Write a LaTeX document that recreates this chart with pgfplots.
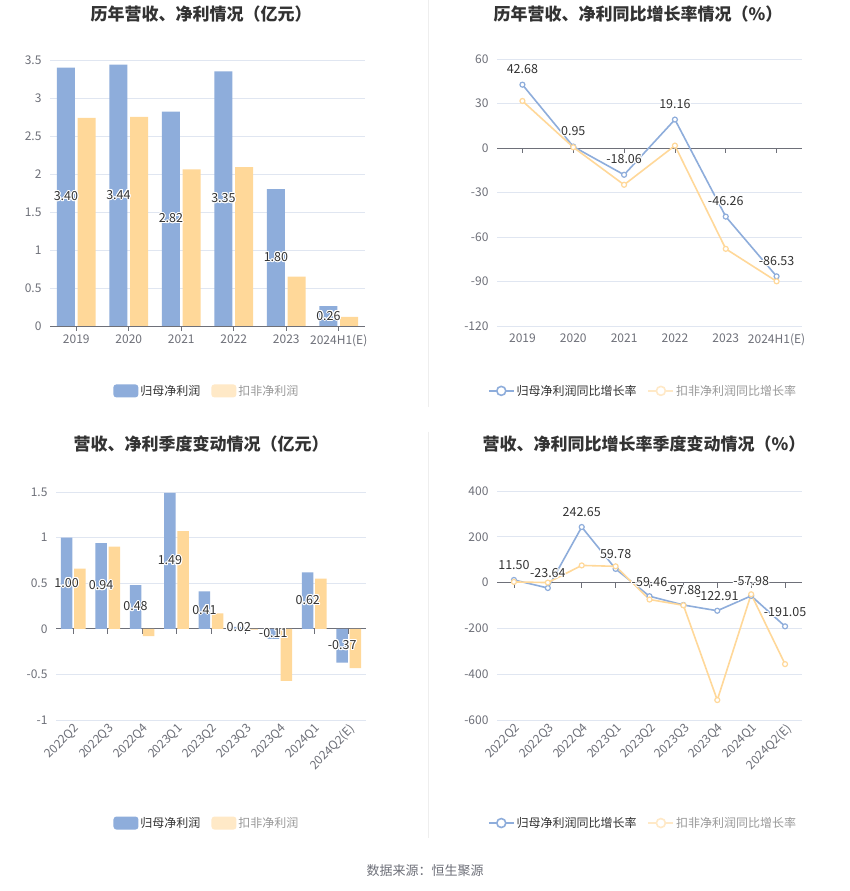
\documentclass[border=0pt]{standalone}
\usepackage{pgfplots}
\pgfplotsset{compat=1.18}
\usepackage{pgfplotstable}
\usepackage{fontspec}
\setmainfont{Noto Sans CJK SC}
\usepackage[copies]{contour}
\contourlength{1pt}

\definecolor{cblue}{HTML}{8EADDB}
\definecolor{corange}{HTML}{FFD899}
\definecolor{corangelt}{HTML}{FFE9C7}
\definecolor{tickc}{HTML}{6E7079}
\definecolor{gridc}{HTML}{E0E6F1}
\definecolor{titlec}{HTML}{333333}
\definecolor{legc}{HTML}{999999}
\definecolor{sepc}{HTML}{EEEEEE}

% annual: a = 归母净利润, b = 扣非净利润 (亿元); ra, rb = growth (%)
\pgfplotstableread{
x a b ra rb
0 3.40 2.74 42.68 31.7
1 3.44 2.75 0.95 0.5
2 2.82 2.06 -18.06 -24.8
3 3.35 2.09 19.16 1.6
4 1.80 0.65 -46.26 -68
5 0.26 0.12 -86.53 -89.9
}\annual

% quarterly
\pgfplotstableread{
x a b ra rb
0 1.00 0.66 11.50 3
1 0.94 0.90 -23.64 0
2 0.48 -0.08 242.65 75
3 1.49 1.07 59.78 71
4 0.41 0.17 -59.46 -74
5 0.02 -0.01 -97.88 -99
6 -0.11 -0.57 -122.91 -513
7 0.62 0.55 -57.98 -51
8 -0.37 -0.43 -191.05 -356
}\quarter

\pgfplotsset{
  panel/.style={
    scale only axis, anchor=south west,
    axis x line=middle, axis y line=left,
    axis line style={-},
    x axis line style={draw=tickc, line width=0.8pt},
    y axis line style={draw=none},
    ytick style={draw=none},
    xtick style={draw=tickc, line width=0.8pt},
    tick align=outside, major tick length=5pt,
    hide obscured x ticks=false, hide obscured y ticks=false,
    ymajorgrids, grid style={gridc, line width=0.8pt},
    tick label style={font=\fontsize{12pt}{14pt}\selectfont, text=tickc},
    /pgf/number format/assume math mode=true,
    legend style={anchor=center, draw=none, fill=none, legend columns=2,
      font=\fontsize{12pt}{14pt}\selectfont, inner sep=0pt,
      /tikz/every even column/.append style={column sep=9pt}},
  },
  vlab/.style={
    draw=none, mark=none, forget plot, point meta=explicit,
    nodes near coords={\contour{white}{\pgfmathprintnumber[fixed,fixed zerofill,precision=2]{\pgfplotspointmeta}}},
    every node near coord/.append style={anchor=center, text=titlec,
      font=\fontsize{12.5pt}{14pt}\selectfont},
  },
  barleg/.style={legend image code/.code={\fill[#1, rounded corners=3pt] (0pt,-6.5pt) rectangle (25pt,6.5pt);}},
  lineleg/.style={legend image code/.code={\draw[#1, line width=1.6pt] (0pt,0pt) -- (25pt,0pt);
      \draw[#1, line width=1.6pt, fill=white] (12.5pt,0pt) circle (4.5pt);}},
}

\begin{document}
\begin{tikzpicture}
\fill[white] (0pt,0pt) rectangle (850pt,891pt);
\useasboundingbox (0pt,0pt) rectangle (850pt,891pt);

\draw[sepc, line width=1pt] (428pt,891pt) -- (428pt,484pt);
\draw[sepc, line width=1pt] (428pt,459pt) -- (428pt,53pt);

\node[font=\bfseries\fontsize{17pt}{20pt}\selectfont, text=titlec] at (201pt,877pt) {历年营收、净利情况（亿元）};
\node[font=\bfseries\fontsize{17pt}{20pt}\selectfont, text=titlec] at (638pt,877pt) {历年营收、净利同比增长率情况（\%）};
\node[font=\bfseries\fontsize{17pt}{20pt}\selectfont, text=titlec] at (201pt,447pt) {营收、净利季度变动情况（亿元）};
\node[font=\bfseries\fontsize{17pt}{20pt}\selectfont, text=titlec] at (644pt,447pt) {营收、净利同比增长率季度变动情况（\%）};
\node[font=\fontsize{13pt}{15pt}\selectfont, text=tickc] at (425pt,20pt) {数据来源：恒生聚源};

% top left: annual profit bars
\begin{axis}[panel, at={(50pt,565pt)}, width=315pt, height=266pt,
  xmin=-0.5, xmax=5.5, ymin=0, ymax=3.5,
  ytick={0,0.5,1,1.5,2,2.5,3,3.5},
  xtick={0,1,2,3,4,5}, xticklabels={2019,2020,2021,2022,2023,2024H1(E)},
  legend style={at={(0.498,-0.244)}}]
\addplot[ybar, bar width=18pt, bar shift=-10.3pt, fill=cblue, draw=none, barleg=cblue] table[x=x, y=a] {\annual};
\addlegendentry{\textcolor{titlec}{归母净利润}}
\addplot[ybar, bar width=18pt, bar shift=10.3pt, fill=corange, draw=none, barleg=corangelt] table[x=x, y=b] {\annual};
\addlegendentry{\textcolor{legc}{扣非净利润}}
\addplot[vlab, every node near coord/.append style={xshift=-10.3pt}] table[x=x, y expr=\thisrow{a}/2, meta=a] {\annual};
\end{axis}

% top right: annual growth lines
\begin{axis}[panel, at={(497pt,565pt)}, width=305pt, height=267pt,
  xmin=-0.5, xmax=5.5, ymin=-120, ymax=60,
  ytick={-120,-90,-60,-30,0,30,60},
  xtick={0,1,2,3,4,5}, xticklabels={2019,2020,2021,2022,2023,2024H1(E)},
  xticklabel style={yshift=-177pt},
  legend style={at={(0.479,-0.243)}}]
\addplot[cblue, line width=1.6pt, mark=*, mark size=2.5pt, mark options={fill=white, line width=1.2pt}, lineleg=cblue] table[x=x, y=ra] {\annual};
\addlegendentry{\textcolor{titlec}{归母净利润同比增长率}}
\addplot[corange, line width=1.6pt, mark=*, mark size=2.5pt, mark options={fill=white, line width=1.2pt}, lineleg=corangelt] table[x=x, y=rb] {\annual};
\addlegendentry{\textcolor{legc}{扣非净利润同比增长率}}
\addplot[vlab, every node near coord/.append style={yshift=15pt}] table[x=x, y=ra, meta=ra] {\annual};
\end{axis}

% bottom left: quarterly profit bars
\begin{axis}[panel, at={(56pt,171pt)}, width=310pt, height=228pt,
  xmin=-0.5, xmax=8.5, ymin=-1, ymax=1.5,
  ytick={-1,-0.5,0,0.5,1,1.5},
  xtick={0,...,8}, xticklabels={2022Q2,2022Q3,2022Q4,2023Q1,2023Q2,2023Q3,2023Q4,2024Q1,2024Q2(E)},
  xticklabel style={yshift=-84pt, rotate=45, anchor=north east},
  legend style={at={(0.487,-0.452)}}]
\addplot[ybar, bar width=11.5pt, bar shift=-6.6pt, fill=cblue, draw=none, barleg=cblue] table[x=x, y=a] {\quarter};
\addlegendentry{\textcolor{titlec}{归母净利润}}
\addplot[ybar, bar width=11.5pt, bar shift=6.6pt, fill=corange, draw=none, barleg=corangelt] table[x=x, y=b] {\quarter};
\addlegendentry{\textcolor{legc}{扣非净利润}}
\addplot[vlab, every node near coord/.append style={xshift=-6.6pt}] table[x=x, y expr=\thisrow{a}/2, meta=a] {\quarter};
\end{axis}

% bottom right: quarterly growth lines
\begin{axis}[panel, at={(497pt,171pt)}, width=305pt, height=229pt,
  xmin=-0.5, xmax=8.5, ymin=-600, ymax=400,
  ytick={-600,-400,-200,0,200,400},
  xtick={0,...,8}, xticklabels={2022Q2,2022Q3,2022Q4,2023Q1,2023Q2,2023Q3,2023Q4,2024Q1,2024Q2(E)},
  xticklabel style={yshift=-130pt, rotate=45, anchor=north east},
  legend style={at={(0.479,-0.450)}}]
\addplot[cblue, line width=1.6pt, mark=*, mark size=2.5pt, mark options={fill=white, line width=1.2pt}, lineleg=cblue] table[x=x, y=ra] {\quarter};
\addlegendentry{\textcolor{titlec}{归母净利润同比增长率}}
\addplot[corange, line width=1.6pt, mark=*, mark size=2.5pt, mark options={fill=white, line width=1.2pt}, lineleg=corangelt] table[x=x, y=rb] {\quarter};
\addlegendentry{\textcolor{legc}{扣非净利润同比增长率}}
\addplot[vlab, every node near coord/.append style={yshift=14pt}] table[x=x, y=ra, meta=ra] {\quarter};
\end{axis}
\end{tikzpicture}
\end{document}
